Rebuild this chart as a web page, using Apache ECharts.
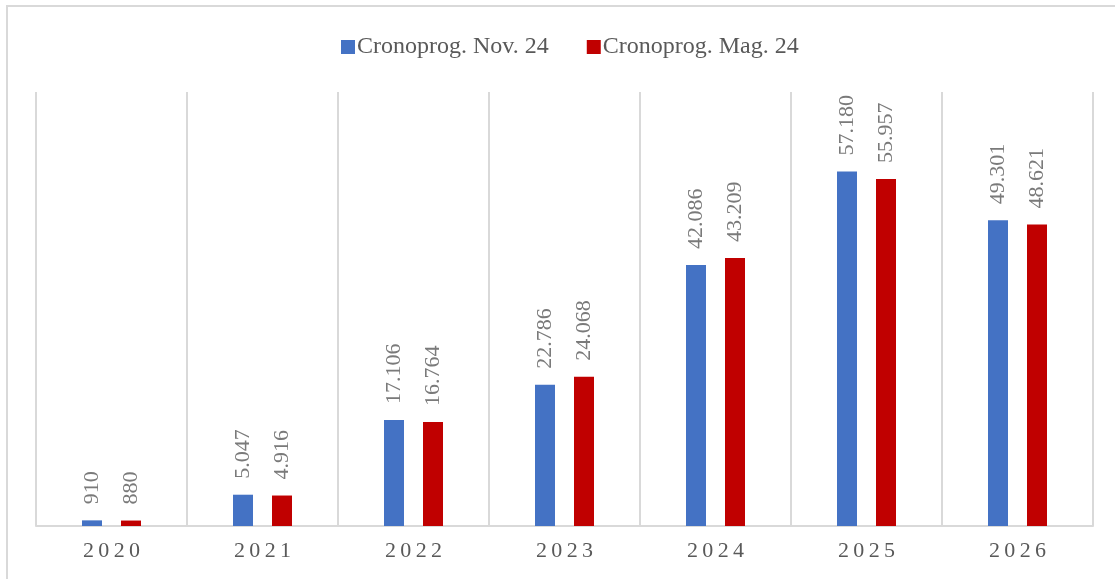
<!DOCTYPE html>
<html>
<head>
<meta charset="utf-8">
<script src="https://cdn.jsdelivr.net/npm/echarts@6/dist/echarts.min.js"></script>
<style>
html,body{margin:0;padding:0;background:#fff;}
#chart{width:1115px;height:579px;}
</style>
</head>
<body>
<div id="chart"></div>
<script>
// anni e valori
const years = ['2020', '2021', '2022', '2023', '2024', '2025', '2026'];
const nov24 = [910, 5047, 17106, 22786, 42086, 57180, 49301];
const mag24 = [880, 4916, 16764, 24068, 43209, 55957, 48621];
const seriesNames = ['Cronoprog. Nov. 24', 'Cronoprog. Mag. 24'];

const font = '"Liberation Serif", "Times New Roman", serif';
const grey = '#595959';
const lineColor = '#d9d9d9';

function fmtIt(v) {
    return String(v).replace(/\B(?=(\d{3})+(?!\d))/g, '.');
}

let chart = echarts.init(document.getElementById('chart'));

let labelOpt = {
    show: true,
    position: 'top',
    rotate: 90,
    align: 'left',
    verticalAlign: 'middle',
    distance: 16,
    color: '#7a7a7a',
    fontFamily: font,
    fontSize: 22,
    formatter: function (p) {
        return fmtIt(p.value);
    }
};

let option = {
    backgroundColor: '#fff',
    animation: false,
    legend: {
        top: 30,
        left: 336,
        itemWidth: 14,
        itemHeight: 14,
        itemGap: 38,
        icon: 'rect',
        textStyle: {
            color: grey,
            fontFamily: font,
            fontSize: 24,
            padding: [0, 0, 0, -3]
        },
        data: seriesNames
    },
    grid: {
        left: 36,
        right: 22,
        top: 92,
        bottom: 53
    },
    xAxis: {
        type: 'category',
        data: years,
        axisLine: {
            lineStyle: {color: lineColor, width: 2}
        },
        axisTick: {show: false},
        splitLine: {
            show: true,
            lineStyle: {color: lineColor, width: 2}
        },
        axisLabel: {
            color: grey,
            fontFamily: font,
            fontSize: 22,
            margin: 14,
            formatter: function (v) {
                return v.split('').join('\u2009');
            }
        }
    },
    yAxis: {
        type: 'value',
        min: 0,
        max: 70000,
        show: false,
        splitLine: {show: false}
    },
    series: [
        {
            name: seriesNames[0],
            type: 'bar',
            data: nov24,
            barWidth: 20,
            barGap: '95%',
            itemStyle: {color: '#4472c4'},
            label: labelOpt
        },
        {
            name: seriesNames[1],
            type: 'bar',
            data: mag24,
            barWidth: 20,
            itemStyle: {color: '#c00000'},
            label: labelOpt
        }
    ],
    graphic: [
        {
            type: 'polyline',
            shape: {points: [[7, 579], [7, 6], [1115, 6]]},
            style: {fill: null, stroke: lineColor, lineWidth: 2},
            silent: true
        }
    ]
};
chart.setOption(option);
</script>
</body>
</html>
